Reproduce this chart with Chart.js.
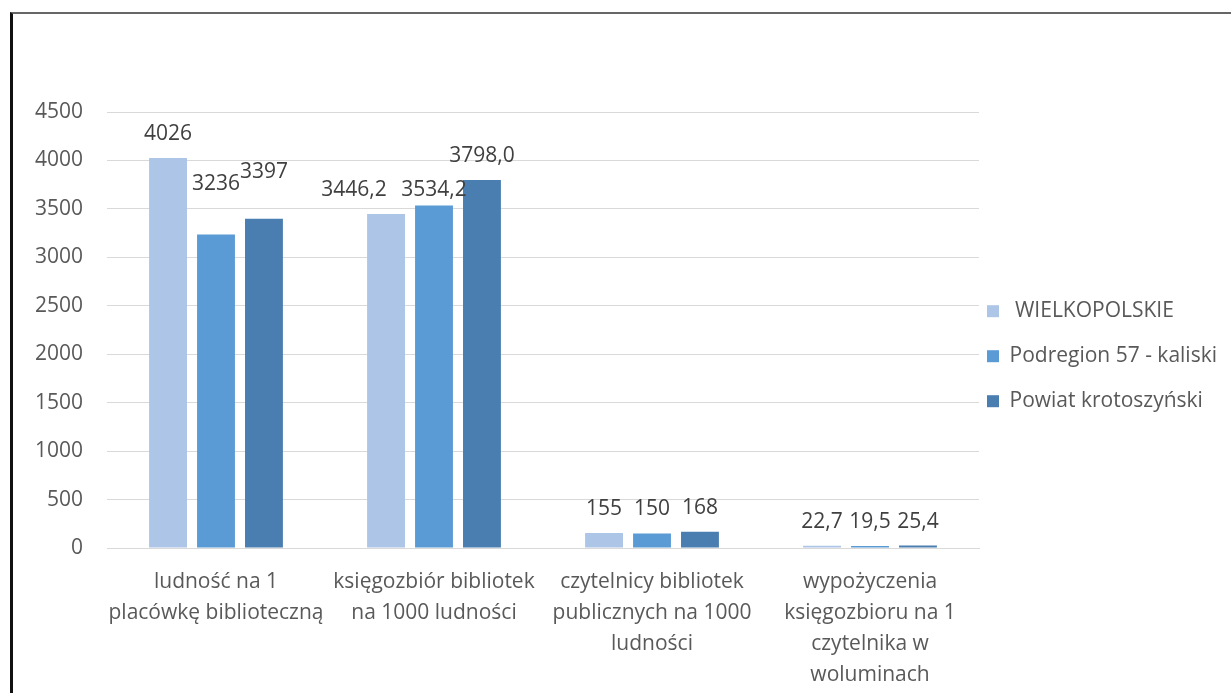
<!DOCTYPE html>
<html>
<head>
<meta charset="utf-8">
<script src="https://cdn.jsdelivr.net/npm/chart.js@4/dist/chart.umd.min.js"></script>
<style>
    body { margin: 0; background: #fff; overflow: hidden; }
    #wrap { position: relative; width: 1231px; height: 693px; }
    #frame { position: absolute; left: 10px; top: 12px; width: 1300px; height: 800px;
             border-left: 3px solid #111; border-top: 2px solid #666; box-sizing: border-box; }
    #chart { position: absolute; left: 0; top: 0; }
</style>
</head>
<body>
<div id="wrap">
    <div id="frame"></div>
    <canvas id="chart" width="1231" height="693"></canvas>
</div>
<script>
const categories = [
    ["ludność na 1", "placówkę biblioteczną"],
    ["księgozbiór bibliotek", "na 1000 ludności"],
    ["czytelnicy bibliotek", "publicznych na 1000", "ludności"],
    ["wypożyczenia", "księgozbioru na 1", "czytelnika w", "woluminach"]
];
const seriesNames = [" WIELKOPOLSKIE", "Podregion 57 - kaliski", "Powiat krotoszyński"];
const wielkopolskie = [4026, 3446.2, 155, 22.7];
const podregion = [3236, 3534.2, 150, 19.5];
const powiat = [3397, 3798.0, 168, 25.4];
const decimals = [0, 1, 0, 1];
const yTicks = [0, 500, 1000, 1500, 2000, 2500, 3000, 3500, 4000, 4500];

const colors = ['#adc5e7', '#5b9bd5', '#4a7eb1'];
const fontFamily = "'Open Sans', 'Liberation Sans', sans-serif";

// value labels over bars, with manual nudges like in the original
const barLabels = {
    id: 'barLabels',
    afterDatasetsDraw(chart, args, opts) {
        const ctx = chart.ctx;
        ctx.save();
        ctx.font = `21px ${fontFamily}`;
        ctx.fillStyle = '#404040';
        ctx.textAlign = 'center';
        ctx.textBaseline = 'middle';
        chart.data.datasets.forEach((ds, di) => {
            chart.getDatasetMeta(di).data.forEach((bar, i) => {
                const text = ds.data[i].toFixed(decimals[i]).replace('.', ',');
                const nudge = (opts.nudges[di] && opts.nudges[di][i]) || [0, 0];
                ctx.fillText(text, bar.x + nudge[0], bar.y - 24 + nudge[1]);
            });
        });
        ctx.restore();
    }
};

// legend padding is used both ways; pull the items back toward the plot
const legendShift = {
    id: 'legendShift',
    afterLayout(chart) {
        chart.legend.left -= 16;
        chart.legend.right -= 16;
    }
};

new Chart(document.getElementById('chart'), {
    type: 'bar',
    data: {
        labels: categories,
        datasets: [wielkopolskie, podregion, powiat].map((d, i) => ({
            label: seriesNames[i],
            data: d,
            backgroundColor: colors[i],
            categoryPercentage: 0.66,
            barPercentage: 0.79
        }))
    },
    options: {
        responsive: false,
        animation: false,
        layout: { padding: { left: 0, right: -12, top: 112, bottom: 0 } },
        plugins: {
            tooltip: { enabled: false },
            legend: {
                position: 'right',
                fullSize: false,
                title: { display: true, text: '', padding: 19, font: { size: 12 } },
                labels: {
                    boxWidth: 12,
                    boxHeight: 12,
                    padding: 24,
                    color: '#595959',
                    font: { family: fontFamily, size: 21 }
                }
            },
            barLabels: {
                nudges: [
                    [[0, 0], [-32, 0]],
                    [[0, -26], [0, 8]],
                    [[0, -23], [0, 0]]
                ]
            }
        },
        scales: {
            x: {
                afterFit: s => { s.height = 145; },
                grid: { display: false },
                border: { display: true, color: '#d9d9d9' },
                ticks: {
                    color: '#595959',
                    padding: 10,
                    autoSkip: false,
                    maxRotation: 0,
                    font: { family: fontFamily, size: 21, lineHeight: 1.48 }
                }
            },
            y: {
                min: 0,
                max: 4500,
                afterFit: s => { s.width = 107; },
                afterBuildTicks: axis => { axis.ticks = yTicks.map(v => ({ value: v })); },
                grid: { color: '#d9d9d9', drawTicks: false },
                border: { display: false },
                ticks: {
                    color: '#595959',
                    padding: 24,
                    callback: v => String(v),
                    font: { family: fontFamily, size: 21 }
                }
            }
        }
    },
    plugins: [barLabels, legendShift]
});
</script>
</body>
</html>
